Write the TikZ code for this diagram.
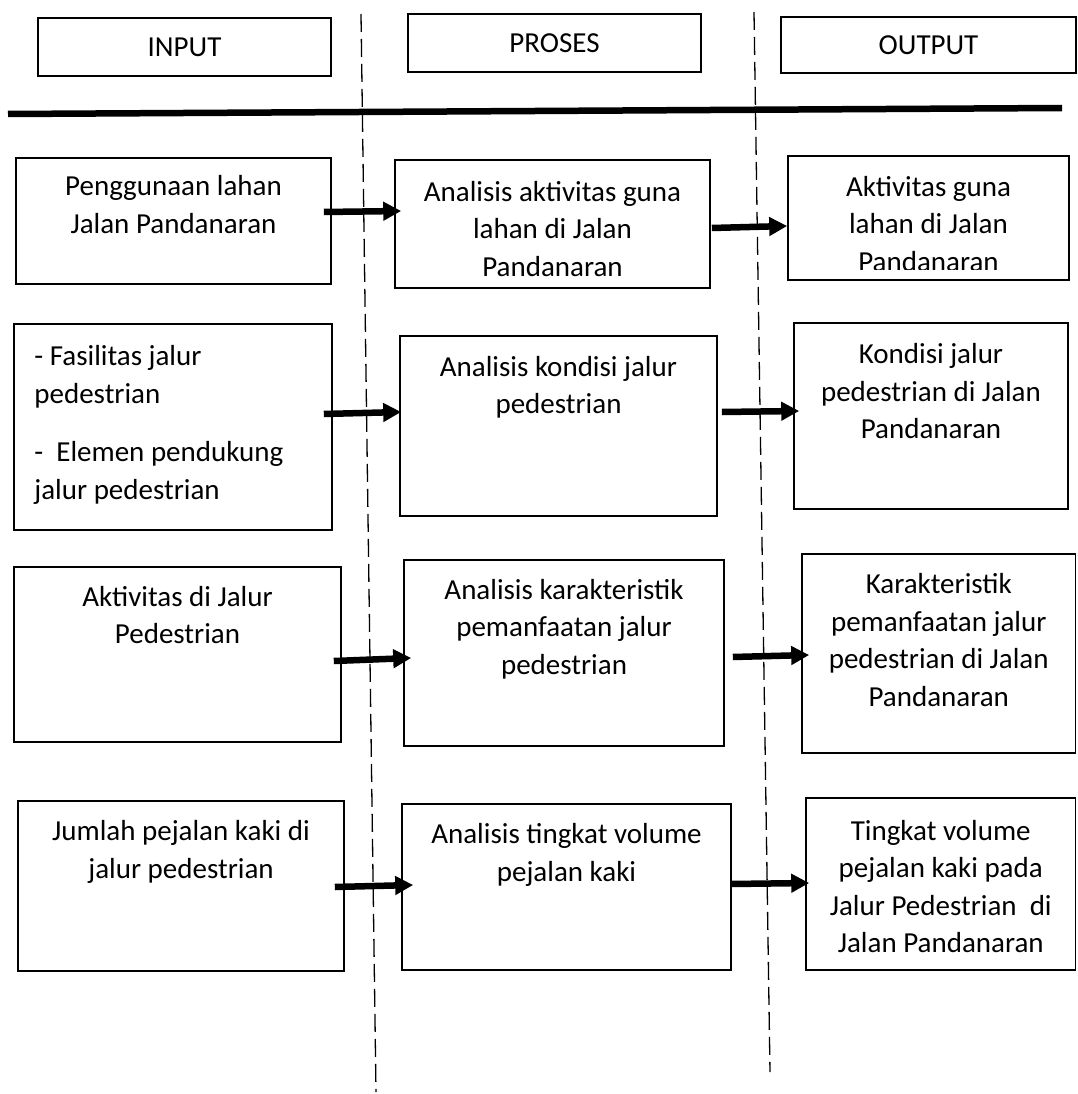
\documentclass[tikz,border=0pt]{standalone}
\usepackage{fontspec}
\setmainfont{Carlito}
\usepackage{tikz}
\usetikzlibrary{arrows.meta,positioning}
\tikzset{
  box/.style={draw=black, line width=1.6pt, inner sep=0pt},
  header/.style={box, align=center},
  boxtext/.style={align=center, inner sep=0pt},
  arrow/.style={-{Triangle[length=18pt, width=18pt]}, line width=6.5pt},
  divider/.style={line width=1.3pt, dash pattern=on 18pt off 7pt},
  headrule/.style={line width=6.5pt}
}

\begin{document}
\begin{tikzpicture}[x=1pt, y=-1pt, font=\fontsize{29}{37.5}\selectfont]
  \useasboundingbox (0,0) rectangle (1077,1094);

  \node[header, minimum width=293pt, minimum height=58pt] (hin) at (184.5,47) {INPUT};
  \node[header, minimum width=293pt, minimum height=58pt] (hpr) at (554.5,43) {PROSES};
  \node[header, minimum width=295pt, minimum height=56pt] (hout) at (928.5,45) {OUTPUT};

  \coordinate (ruleL) at (8,114);
  \coordinate (ruleR) at (1062,108);
  \draw[headrule] (ruleL) -- (ruleR);

  \coordinate (div1top) at (361,14);
  \coordinate (div1bot) at (376,1092);
  \coordinate (div2top) at (754,12);
  \coordinate (div2bot) at (770,1072);
  \draw[divider] (div1top) -- (div1bot);
  \draw[divider] (div2top) -- (div2bot);

  \node[box, minimum width=315pt, minimum height=126pt] (in1) at (173.5,221) {};
  \node[box, minimum width=315pt, minimum height=128pt] (pr1) at (552.5,224) {};
  \node[box, minimum width=281pt, minimum height=124pt] (out1) at (928.5,218) {};

  \node[box, minimum width=318pt, minimum height=206pt] (in2) at (173,427) {};
  \node[box, minimum width=317pt, minimum height=180pt] (pr2) at (558.5,426) {};
  \node[box, minimum width=274pt, minimum height=186pt] (out2) at (931,416) {};

  \node[box, minimum width=327pt, minimum height=175pt] (in3) at (177.5,654.5) {};
  \node[box, minimum width=320pt, minimum height=186pt] (pr3) at (564,653) {};
  \node[box, minimum width=273.5pt, minimum height=199pt] (out3) at (938.75,653.5) {};

  \node[box, minimum width=326pt, minimum height=170pt] (in4) at (181,886) {};
  \node[box, minimum width=329pt, minimum height=166pt] (pr4) at (566.5,887) {};
  \node[box, minimum width=269.5pt, minimum height=172pt] (out4) at (940.75,884) {};

  \node[boxtext, below=12pt of in1.north] (in1txt) {\strut Penggunaan lahan\\Jalan Pandanaran};
  \node[boxtext, below=15.5pt of pr1.north] (pr1txt) {\strut Analisis aktivitas guna\\lahan di Jalan\\Pandanaran};
  \begin{scope}
    \clip (out1.north west) rectangle ([yshift=11pt]out1.south east);
    \node[boxtext, below=14.5pt of out1.north] (out1txt) {\strut Aktivitas guna\\lahan di Jalan\\Pandanaran};
  \end{scope}

  \node[boxtext, align=left, below right=16pt and 21pt of in2.north west] (in2txt) {\strut - Fasilitas jalur\\pedestrian\\[21pt]-~ Elemen pendukung\\jalur pedestrian};
  \node[boxtext, below=14.5pt of pr2.north] (pr2txt) {\strut Analisis kondisi jalur\\pedestrian};
  \node[boxtext, below=15pt of out2.north] (out2txt) {\strut Kondisi jalur\\pedestrian di Jalan\\Pandanaran};

  \node[boxtext, below=13.5pt of in3.north] (in3txt) {\strut Aktivitas di Jalur\\Pedestrian};
  \node[boxtext, below=13.5pt of pr3.north] (pr3txt) {\strut Analisis karakteristik\\pemanfaatan jalur\\pedestrian};
  \node[boxtext, below=14pt of out3.north] (out3txt) {\strut Karakteristik\\pemanfaatan jalur\\pedestrian di Jalan\\Pandanaran};

  \node[boxtext, below=14pt of in4.north] (in4txt) {\strut Jumlah pejalan kaki di\\jalur pedestrian};
  \node[boxtext, below=14pt of pr4.north] (pr4txt) {\strut Analisis tingkat volume\\pejalan kaki};
  \node[boxtext, below=16.5pt of out4.north] (out4txt) {\strut Tingkat volume\\pejalan kaki pada\\Jalur Pedestrian~ di\\Jalan Pandanaran};

  \draw[arrow] ([shift={(-8,-9)}]in1.east) -- ([shift={(7,-13)}]pr1.west);
  \draw[arrow] ([shift={(1,4)}]pr1.east) -- ([shift={(0,8)}]out1.west);
  \draw[arrow] ([shift={(-9,-13)}]in2.east) -- ([shift={(2,-14)}]pr2.west);
  \draw[arrow] ([shift={(4,-14)}]pr2.east) -- ([shift={(6,-5)}]out2.west);
  \draw[arrow] ([shift={(-8,6.5)}]in3.east) -- ([shift={(8,5)}]pr3.west);
  \draw[arrow] ([shift={(8,4)}]pr3.east) -- ([shift={(8,1.5)}]out3.west);
  \draw[arrow] ([shift={(-10,1)}]in4.east) -- ([shift={(12,-2)}]pr4.west);
  \draw[arrow] ([shift={(-1,-3)}]pr4.east) -- ([shift={(4,-1)}]out4.west);
\end{tikzpicture}
\end{document}
